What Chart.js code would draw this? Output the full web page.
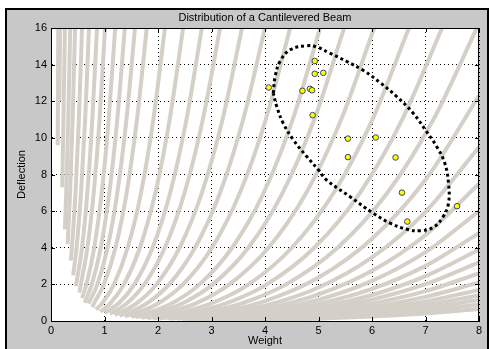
<!DOCTYPE html>
<html>
<head>
<meta charset="utf-8">
<script src="https://cdn.jsdelivr.net/npm/chart.js@4/dist/chart.umd.min.js"></script>
<style>
  html, body { margin: 0; padding: 0; background: #fff; }
  #wrap { position: relative; width: 490px; height: 349px; }
</style>
</head>
<body>
<div id="wrap"><canvas id="beamChart"></canvas></div>
<script>
// Axis ticks
const xTicks = [0, 1, 2, 3, 4, 5, 6, 7, 8];
const yTicks = [0, 2, 4, 6, 8, 10, 12, 14, 16];

// Grey curves leaving through the top of the plot, [weight, deflection]
const upperCurves = [
    [[0.125, 9.6], [0.13, 12], [0.135, 16]],
    [[0.156, 12], [0.17, 16]],
    [[0.21, 7.3], [0.233, 11], [0.26, 16]],
    [[0.26, 5], [0.284, 7], [0.323, 11], [0.36, 16]],
    [[0.31, 4.2], [0.356, 7], [0.404, 11], [0.45, 16]],
    [[0.37, 3.3], [0.39, 4], [0.458, 7], [0.521, 11], [0.58, 16]],
    [[0.415, 2.5], [0.478, 4], [0.561, 7], [0.638, 11], [0.71, 16]],
    [[0.465, 1.9], [0.579, 4], [0.679, 7], [0.772, 11], [0.86, 16]],
    [[0.53, 1.55], [0.558, 2], [0.68, 4], [0.798, 7], [0.907, 11], [1.01, 16]],
    [[0.58, 1.25], [0.662, 2], [0.808, 4], [0.948, 7], [1.078, 11], [1.2, 16]],
    [[0.63, 1], [0.762, 2], [0.929, 4], [1.09, 7], [1.239, 11], [1.38, 16]],
    [[0.7, 0.95], [0.867, 2], [1.057, 4], [1.24, 7], [1.41, 11], [1.57, 16]],
    [[0.77, 0.76], [0.811, 1], [0.988, 2], [1.205, 4], [1.414, 7], [1.607, 11], [1.79, 16]],
    [[0.84, 0.62], [0.965, 1], [1.176, 2], [1.433, 4], [1.683, 7], [1.913, 11], [2.13, 16]],
    [[0.92, 0.5], [1.119, 1], [1.363, 2], [1.662, 4], [1.951, 7], [2.218, 11], [2.47, 16]],
    [[1.0, 0.44], [1.277, 1], [1.557, 2], [1.898, 4], [2.228, 7], [2.532, 11], [2.82, 16]],
    [[1.1, 0.4], [1.176, 0.5], [1.431, 1], [1.744, 2], [2.127, 4], [2.496, 7], [2.838, 11], [3.16, 16]],
    [[1.19, 0.34], [1.328, 0.5], [1.617, 1], [1.971, 2], [2.403, 4], [2.82, 7], [3.206, 11], [3.57, 16]],
    [[1.28, 0.3], [1.488, 0.5], [1.812, 1], [2.208, 2], [2.692, 4], [3.16, 7], [3.592, 11], [4.0, 16]],
    [[1.38, 0.26], [1.663, 0.5], [2.025, 1], [2.467, 2], [3.008, 4], [3.531, 7], [4.014, 11], [4.47, 16]],
    [[1.5, 0.23], [1.871, 0.5], [2.279, 1], [2.777, 2], [3.385, 4], [3.974, 7], [4.517, 11], [5.03, 16]],
    [[1.58, 0.21], [2.039, 0.5], [2.482, 1], [3.025, 2], [3.688, 4], [4.329, 7], [4.921, 11], [5.48, 16]],
    [[1.69, 0.18], [2.247, 0.5], [2.736, 1], [3.334, 2], [4.065, 4], [4.772, 7], [5.424, 11], [6.04, 16]],
    [[1.8, 0.165], [2.04, 0.25], [2.489, 0.5], [3.031, 1], [3.693, 2], [4.502, 4], [5.285, 7], [6.008, 11], [6.69, 16]],
    [[1.92, 0.15], [2.23, 0.25], [2.719, 0.5], [3.311, 1], [4.035, 2], [4.92, 4], [5.775, 7], [6.564, 11], [7.31, 16]],
    [[2.03, 0.135], [2.428, 0.25], [2.961, 0.5], [3.606, 1], [4.394, 2], [5.357, 4], [6.288, 7], [7.148, 11], [7.96, 16]]
];

// Grey curves leaving through the right edge
const lowerCurves = [
    [[2.2, 0.13], [2.5, 0.21], [3, 0.4], [4, 1.09], [5, 2.37], [6, 4.49], [7, 7.71], [8, 12.3]],
    [[2.35, 0.13], [3, 0.31], [4, 0.84], [5, 1.83], [6, 3.47], [7, 5.96], [8, 9.5]],
    [[2.45, 0.11], [3, 0.24], [4, 0.66], [5, 1.45], [6, 2.74], [7, 4.7], [8, 7.5]],
    [[2.55, 0.1], [3, 0.19], [4, 0.53], [5, 1.16], [6, 2.19], [7, 3.76], [8, 6]],
    [[2.65, 0.1], [3, 0.155], [4, 0.42], [5, 0.93], [6, 1.75], [7, 3.01], [8, 4.8]],
    [[2.75, 0.09], [3, 0.126], [4, 0.345], [5, 0.75], [6, 1.42], [7, 2.45], [8, 3.9]],
    [[2.85, 0.085], [4, 0.283], [5, 0.62], [6, 1.17], [7, 2.01], [8, 3.2]],
    [[2.9, 0.075], [4, 0.23], [5, 0.5], [6, 0.95], [7, 1.63], [8, 2.6]],
    [[3, 0.068], [4, 0.186], [5, 0.405], [6, 0.767], [7, 1.317], [8, 2.1]],
    [[3.05, 0.057], [4, 0.15], [5, 0.33], [6, 0.62], [7, 1.07], [8, 1.7]],
    [[3.2, 0.055], [4, 0.124], [5, 0.27], [6, 0.51], [7, 0.88], [8, 1.4]],
    [[3.3, 0.05], [4, 0.1], [5, 0.22], [6, 0.42], [7, 0.72], [8, 1.15]],
    [[3.4, 0.045], [4, 0.08], [5, 0.174], [6, 0.33], [7, 0.56], [8, 0.9]],
    [[3.5, 0.035], [4, 0.058], [5, 0.127], [6, 0.24], [7, 0.41], [8, 0.66]]
];

// Yellow samples
const sampleWeight = [4.07, 4.93, 4.93, 5.09, 4.70, 4.84, 4.88, 4.89, 5.55, 6.07, 5.55, 6.44, 6.56, 7.59, 6.66];
const sampleDeflection = [12.75, 14.2, 13.5, 13.55, 12.57, 12.68, 12.6, 11.24, 9.96, 10.02, 8.95, 8.93, 7.01, 6.27, 5.43];

// Dotted ellipse outline
const ellipseWeight = [4.155, 4.19, 4.28, 4.47, 4.78, 4.97, 5.21, 5.53, 5.84, 6.15, 6.46, 6.77, 7.02, 7.21, 7.36, 7.43,
    7.43, 7.33, 7.15, 6.90, 6.65, 6.34, 6.02, 5.59, 5.15, 5.0, 4.78, 4.53, 4.34, 4.22, 4.155];
const ellipseDeflection = [12.44, 13.35, 14.17, 14.81, 15.03, 14.96, 14.63, 14.17, 13.68, 13.02, 12.26, 11.35, 10.34, 9.52, 8.62, 7.52,
    6.43, 5.70, 5.12, 4.93, 5.01, 5.34, 5.89, 6.79, 7.70, 8.25, 8.98, 9.89, 10.80, 11.71, 12.44];

const chartTitle = 'Distribution of a Cantilevered Beam';
const FONT = { family: '"Liberation Sans", Arial, sans-serif', size: 11 };
const CURVE = '#d4d0c8';

function curveDataset(points) {
    return {
        data: points.map(p => ({ x: p[0], y: p[1] })),
        showLine: true,
        borderColor: CURVE,
        borderWidth: 4,
        pointRadius: 0,
        cubicInterpolationMode: 'monotone',
        fill: false
    };
}

// Figure window, white axes, box, inward ticks and title
const figurePlugin = {
    id: 'figure',
    beforeDraw(chart) {
        const { ctx, chartArea: a, width, height } = chart;
        ctx.save();
        ctx.fillStyle = '#fff';
        ctx.fillRect(0, 0, width, height);
        ctx.fillStyle = '#000';
        ctx.fillRect(5, 8, 484, height - 8);
        ctx.fillStyle = '#c8c8c8';
        ctx.fillRect(7, 10, 480, height - 10);
        ctx.fillStyle = '#fff';
        ctx.fillRect(a.left, a.top, a.right - a.left, a.bottom - a.top);
        ctx.restore();
    },
    afterDraw(chart) {
        const { ctx, chartArea: a, scales } = chart;
        ctx.save();
        ctx.strokeStyle = '#000';
        ctx.lineWidth = 1;
        ctx.strokeRect(a.left + 0.5, a.top + 0.5, a.right - a.left - 1, a.bottom - a.top);
        ctx.beginPath();
        xTicks.forEach(v => {
            const px = Math.round(scales.x.getPixelForValue(v)) + 0.5;
            ctx.moveTo(px, a.bottom); ctx.lineTo(px, a.bottom - 4);
            ctx.moveTo(px, a.top); ctx.lineTo(px, a.top + 4);
        });
        yTicks.forEach(v => {
            const py = Math.round(scales.y.getPixelForValue(v)) + 0.5;
            ctx.moveTo(a.left, py); ctx.lineTo(a.left + 4, py);
            ctx.moveTo(a.right, py); ctx.lineTo(a.right - 4, py);
        });
        ctx.stroke();
        ctx.fillStyle = '#000';
        ctx.font = FONT.size + 'px ' + FONT.family;
        ctx.textAlign = 'center';
        ctx.textBaseline = 'middle';
        ctx.fillText(chartTitle, (a.left + a.right) / 2, 18);
        ctx.restore();
    }
};

const datasets = [
    {
        data: sampleWeight.map((w, i) => ({ x: w, y: sampleDeflection[i] })),
        pointRadius: 2.8,
        pointBackgroundColor: '#ffff00',
        pointBorderColor: '#3a4470',
        pointBorderWidth: 1,
        showLine: false
    },
    {
        data: ellipseWeight.map((w, i) => ({ x: w, y: ellipseDeflection[i] })),
        showLine: true,
        borderColor: '#000',
        borderWidth: 3,
        borderDash: [3, 3],
        borderCapStyle: 'butt',
        pointRadius: 0,
        tension: 0.4,
        fill: false
    }
].concat(upperCurves.map(curveDataset), lowerCurves.map(curveDataset));

new Chart(document.getElementById('beamChart'), {
    type: 'scatter',
    data: { datasets: datasets },
    options: {
        responsive: true,
        maintainAspectRatio: false,
        animation: false,
        layout: { padding: { left: 8, right: 11, top: 28, bottom: 0 } },
        plugins: {
            legend: { display: false },
            tooltip: { enabled: false },
            title: { display: false }
        },
        scales: {
            x: {
                type: 'linear',
                min: 0,
                max: 8,
                z: 1,
                afterFit: (s) => { s.height = 28; },
                afterBuildTicks: (s) => { s.ticks = xTicks.map(v => ({ value: v })); },
                ticks: { color: '#000', font: FONT, padding: 3, maxRotation: 0 },
                grid: { color: '#000', lineWidth: 1, drawTicks: false },
                border: { color: '#000', dash: [1, 3] },
                title: { display: true, text: 'Weight', color: '#000', font: FONT, padding: { top: 0, bottom: 1 } }
            },
            y: {
                type: 'linear',
                min: 0,
                max: 16,
                z: 1,
                afterFit: (s) => { s.width = 43; },
                afterBuildTicks: (s) => { s.ticks = yTicks.map(v => ({ value: v })); },
                ticks: { color: '#000', font: FONT, padding: 4 },
                grid: { color: '#000', lineWidth: 1, drawTicks: false },
                border: { color: '#000', dash: [1, 3] },
                title: { display: true, text: 'Deflection', color: '#000', font: FONT, padding: { top: 7, bottom: 0 } }
            }
        }
    },
    plugins: [figurePlugin]
});
</script>
</body>
</html>
